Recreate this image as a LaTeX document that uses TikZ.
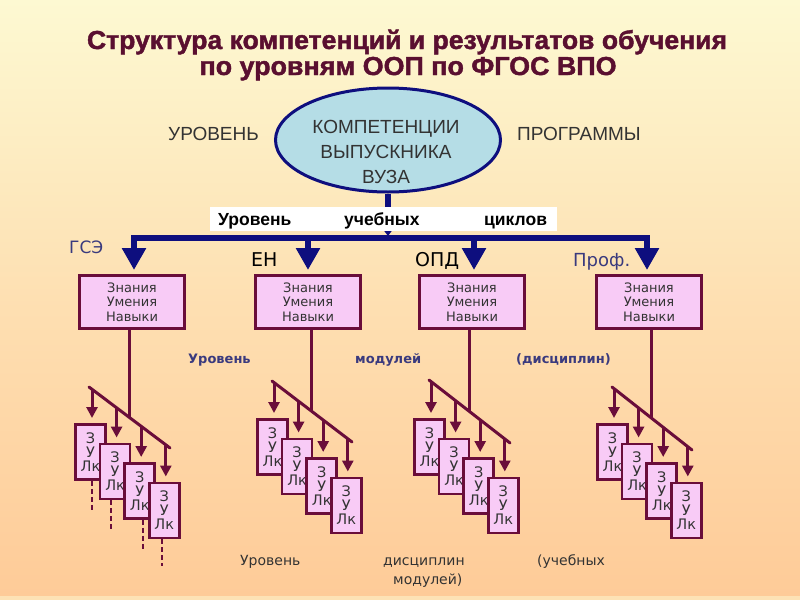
\documentclass[tikz,border=0pt]{standalone}
\usepackage{fontspec}
\usepackage{graphicx}
\usetikzlibrary{arrows.meta,calc,shapes.geometric}
\setmainfont{Liberation Sans}
\newfontfamily\dv{DejaVu Sans}
\newfontfamily\lib{Liberation Sans}
\newfontfamily\tfont[FakeBold=1.6]{Liberation Sans}
\definecolor{bgtop}{HTML}{FDF9D2}
\definecolor{bgbot}{HTML}{FECB98}
\definecolor{titlec}{HTML}{5A0F30}
\definecolor{navy}{HTML}{0E0E7E}
\definecolor{ellfill}{HTML}{B5DDE6}
\definecolor{maroon}{HTML}{6A0D3A}
\definecolor{pinkfill}{HTML}{F8CBF6}
\definecolor{txtgrey}{HTML}{333333}
\definecolor{slate}{HTML}{3A3A7E}
\tikzset{
  kbox/.style={draw=maroon, fill=pinkfill, line width=3pt, minimum width=105pt, minimum height=53pt, inner sep=0pt, align=center, text=txtgrey, font=\dv\fontsize{13}{14.5}\selectfont},
  zbox/.style={draw=maroon, fill=pinkfill, line width=2.6pt, minimum width=30pt, minimum height=55pt, inner sep=0pt, align=center, text=txtgrey, font=\dv\fontsize{14.5}{14}\selectfont},
  mline/.style={draw=maroon, line width=3pt},
  marrow/.style={draw=maroon, line width=3pt, -{Triangle[width=11pt,length=11pt]}},
  dline/.style={draw=maroon, line width=2pt, dash pattern=on 5pt off 3pt},
  barrow/.style={draw=navy, line width=6pt, -{Triangle[width=23pt,length=22pt]}},
  lbl/.style={inner sep=0pt, anchor=base west},
  bold/.style={inner sep=0pt, anchor=base west, text=slate, font=\dv\bfseries\fontsize{13}{15}\selectfont},
  low/.style={inner sep=0pt, anchor=base west, text=txtgrey, font=\dv\fontsize{14}{16}\selectfont},
}
\begin{document}
\begin{tikzpicture}[x=1pt,y=-1pt]
\useasboundingbox (0,0) rectangle (800,600);
\shade[top color=bgtop, bottom color=bgbot, middle color=bgbot!55!bgtop] (0,0) rectangle (800,596);
\fill[bgbot!50!bgtop] (0,596) rectangle (800,600);

% title
\node[inner sep=0pt, anchor=base, text=titlec, font=\tfont\bfseries\fontsize{26}{28}\selectfont] (t1) at (407,49)
  {\resizebox{640pt}{\height}{Структура компетенций и результатов обучения}};
\node[inner sep=0pt, anchor=base, text=titlec, font=\tfont\bfseries\fontsize{26}{28}\selectfont] (t2) at (408,75)
  {\resizebox{417pt}{\height}{по уровням ООП по ФГОС ВПО}};

% top ellipse
\node[draw=navy, fill=ellfill, line width=3pt, ellipse, minimum width=225pt, minimum height=104pt, inner sep=0pt] (ell) at (388,140) {};
\node[inner sep=0pt, anchor=base, align=center, font=\lib\fontsize{19}{25}\selectfont, text=txtgrey] (etxt) at (386,183) {КОМПЕТЕНЦИИ\\ВЫПУСКНИКА\\ВУЗА};
\node[lbl, font=\lib\fontsize{19}{22}\selectfont, text=txtgrey] (lv) at (168,140) {УРОВЕНЬ};
\node[lbl, font=\lib\fontsize{19}{22}\selectfont, text=txtgrey] (lp) at (517,140) {ПРОГРАММЫ};

% bar
\coordinate (barL) at (131,238);
\coordinate (barR) at (650,238);
\coordinate (barM) at (388,236);
\draw[navy, line width=6pt] (barL) -- (barR);
\draw[navy, line width=6pt, -{Triangle[width=10pt,length=7pt]}] (ell.south) -- (barM);
\node[fill=white, minimum width=347pt, minimum height=24pt, inner sep=0pt] (wl) at (383.5,219) {};
\node[lbl, font=\lib\bfseries\fontsize{17.5}{19}\selectfont] (w1) at (218,225) {Уровень};
\node[lbl, font=\lib\bfseries\fontsize{17.5}{19}\selectfont] (w2) at (344,225) {учебных};
\node[lbl, font=\lib\bfseries\fontsize{17.5}{19}\selectfont] (w3) at (484,225) {циклов};

% level boxes
\node[kbox] (k1) at (132,302) {Знания\\Умения\\Навыки};
\node[kbox] (k2) at (308,302) {Знания\\Умения\\Навыки};
\node[kbox] (k3) at (472,302) {Знания\\Умения\\Навыки};
\node[kbox] (k4) at (649,302) {Знания\\Умения\\Навыки};

\foreach \i/\ax in {1/134,2/308,3/474,4/647}{
  \coordinate (ba\i) at (\ax,238);
  \draw[barrow, shorten >=4pt] (ba\i) -- (k\i.north -| ba\i);
}

% cycle labels
\node[lbl, font=\dv\fontsize{17}{19}\selectfont, text=slate] (g1) at (69,253) {ГСЭ};
\node[lbl, font=\dv\fontsize{19}{21}\selectfont] (g2) at (251,266) {ЕН};
\node[lbl, font=\dv\fontsize{19}{21}\selectfont] (g3) at (415,266) {ОПД};
\node[lbl, font=\dv\fontsize{18}{20}\selectfont, text=slate] (g4) at (573,266) {Проф.};

% level of modules
\node[bold] (m1) at (188,363) {Уровень};
\node[bold] (m2) at (355,363) {модулей};
\node[bold] (m3) at (516,363) {(дисциплин)};

% clusters
\foreach \c/\sx/\ax/\ay/\ex/\ey/\px/\py in {1/129/89/387/170/448/74/423, 2/311/272/381/352/442/256/418, 3/469/429/380/510/443/413/418, 4/651/612/387/692/450/596/423}{
  \coordinate (da\c) at (\ax,\ay);
  \coordinate (db\c) at (\ex,\ey);
  \pgfmathsetmacro\sy{\ay+(\sx-\ax)*(\ey-\ay)/(\ex-\ax)}
  \coordinate (s\c) at (\sx,\sy);
  \draw[mline] (k\c.south -| s\c) -- (s\c);
  \draw[mline, line cap=round] (da\c) -- (db\c);
  \foreach \j in {0,...,3}{
    \pgfmathsetmacro\bxc{\px+16.5+\j*24.6}
    \pgfmathsetmacro\dx{\bxc+1.5}
    \pgfmathsetmacro\dyy{\ay+(\dx-\ax)*(\ey-\ay)/(\ex-\ax)}
    \pgfmathsetmacro\ty{\py+\j*19.5}
    \coordinate (dr\c\j) at (\dx,\dyy);
    \coordinate (zt\c\j) at (\dx,\ty);
    \draw[marrow, shorten >=5pt] (dr\c\j) -- (zt\c\j);
  }
  \foreach \j in {0,...,3}{
    \pgfmathsetmacro\bxc{\px+16.5+\j*24.6}
    \pgfmathsetmacro\byc{\py+29+\j*19.5}
    \node[zbox] (z\c\j) at (\bxc,\byc) {З\\У\\Лк};
  }
}

% dashed continuation lines (first cluster)
\coordinate (e0) at (92,510);
\coordinate (e1) at (111,530);
\coordinate (e2) at (143,550);
\coordinate (e3) at (162,566);
\draw[dline] (z10.south -| e0) -- (e0);
\draw[dline] (z11.south -| e1) -- (e1);
\draw[dline] (z12.south -| e2) -- (e2);
\draw[dline] (z13.south -| e3) -- (e3);

% bottom text
\node[low] (b1) at (240,565) {Уровень};
\node[low] (b2) at (383,565) {дисциплин};
\node[low] (b3) at (393,584) {модулей)};
\node[low] (b4) at (537,565) {(учебных};
\end{tikzpicture}
\end{document}
